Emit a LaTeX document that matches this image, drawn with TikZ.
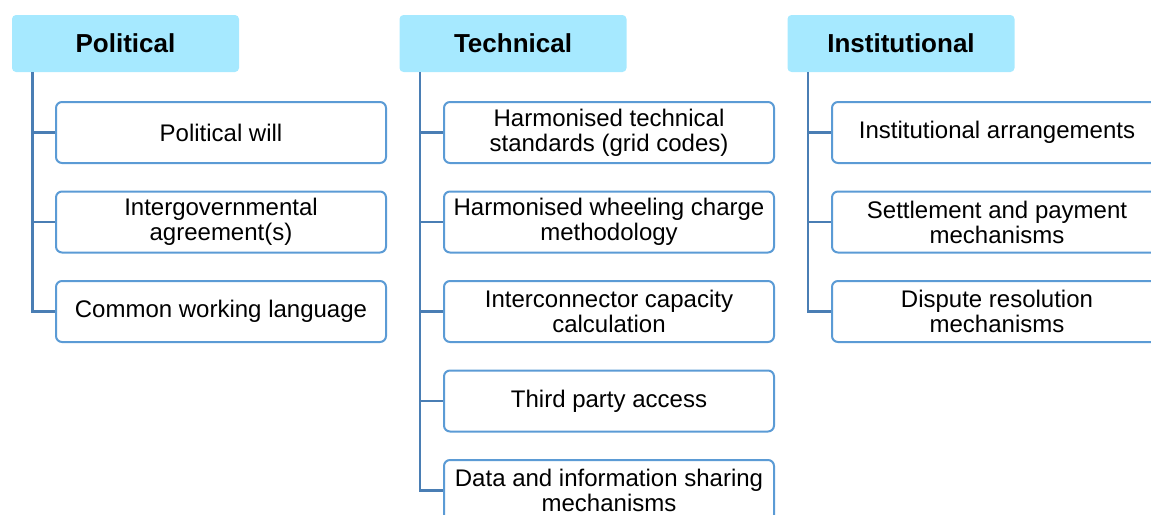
\documentclass[tikz,border=0pt]{standalone}
\usepackage{fontspec}
\setmainfont{Liberation Sans}
\usetikzlibrary{positioning}

\definecolor{headfill}{HTML}{A6E9FF}
\definecolor{boxline}{HTML}{5B9BD5}
\definecolor{linkline}{HTML}{4A7EB4}

\begin{document}
\begin{tikzpicture}[x=0.5pt, y=-0.5pt]
    \tikzstyle{head} = [rectangle, fill=headfill, text centered, rounded corners=2pt, minimum width=113.5pt, minimum height=28.5pt, font=\fontsize{13}{15}\selectfont\bfseries]
    \tikzstyle{box} = [rectangle, draw=boxline, line width=1pt, fill=white, align=center, rounded corners=3pt, minimum width=165pt, minimum height=30.5pt, inner sep=1pt, font=\fontsize{12}{12.5}\selectfont]
    \tikzstyle{link} = [draw=linkline, line width=1.25pt]

    \useasboundingbox (0,0) rectangle (1151,514);

    % column heads
    \node [head] (pol) at (125.5,43.5) {Political};
    \node [head] (tech) at (513,43.5) {Technical};
    \node [head] (inst) at (901,43.5) {Institutional};

    \coordinate (polT) at ([xshift=10.5pt]pol.south west);
    \coordinate (techT) at ([xshift=10.5pt]tech.south west);
    \coordinate (instT) at ([xshift=10.5pt]inst.south west);

    % political
    \node [box] (will) at (221,132.5) {Political will};
    \node [box] (agree) at (221,222) {Intergovernmental\\agreement(s)};
    \node [box] (lang) at (221,311.5) {Common working language};

    % technical
    \node [box] (grid) at (609,132.5) {Harmonised technical\\standards (grid codes)};
    \node [box] (wheel) at (609,222) {Harmonised wheeling charge\\methodology};
    \node [box] (capac) at (609,311.5) {Interconnector capacity\\calculation};
    \node [box] (access) at (609,401) {Third party access};
    \node [box] (data) at (609,490.5) {Data and information sharing\\mechanisms};

    % institutional
    \node [box] (arrange) at (997,132.5) {Institutional arrangements};
    \node [box] (settle) at (997,222) {Settlement and payment\\mechanisms};
    \node [box] (dispute) at (997,311.5) {Dispute resolution\\mechanisms};

    \draw [link] (polT) |- (will.west);
    \draw [link] (polT) |- (agree.west);
    \draw [link] (polT) |- (lang.west);

    \draw [link] (techT) |- (grid.west);
    \draw [link] (techT) |- (wheel.west);
    \draw [link] (techT) |- (capac.west);
    \draw [link] (techT) |- (access.west);
    \draw [link] (techT) |- (data.west);

    \draw [link] (instT) |- (arrange.west);
    \draw [link] (instT) |- (settle.west);
    \draw [link] (instT) |- (dispute.west);
  \end{tikzpicture}
\end{document}
